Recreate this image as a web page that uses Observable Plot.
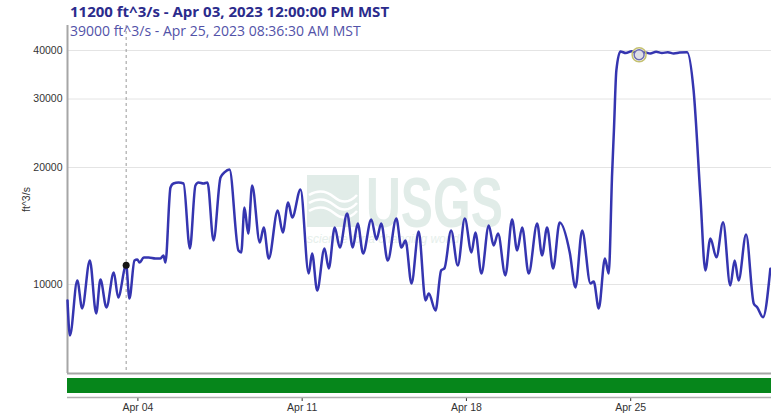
<!DOCTYPE html>
<html>
<head>
<meta charset="utf-8">
<script src="https://cdn.jsdelivr.net/npm/d3@7"></script>
<script src="https://cdn.jsdelivr.net/npm/@observablehq/plot@0.6"></script>
<style>
  body { margin: 0; background: #fff; }
  #wrap { position: relative; width: 771px; height: 417px; overflow: hidden; background: #fff; }
  #wm { position: absolute; left: 300px; top: 165px; z-index: 0; }
  #main { position: absolute; left: 0; top: 0; z-index: 1; }
  #band { position: absolute; left: 0; top: 375px; z-index: 1; }
  #title { position: absolute; left: 70px; top: 1px; z-index: 2; font-family: "Open Sans", sans-serif; font-weight: 700; font-size: 15px; color: #2b2b8c; white-space: nowrap; }
  #sub { position: absolute; left: 70px; top: 21px; z-index: 2; font-family: "Open Sans", sans-serif; font-weight: 400; font-size: 14px; color: #5252a8; white-space: nowrap; }
</style>
</head>
<body>
<div id="wrap">
  <svg id="wm" width="240" height="95" viewBox="0 0 240 95">
    <rect x="7" y="10" width="52" height="52" fill="#e1ece8"></rect>
    <path d="M9 30 Q22 22 34 32 T57 30" stroke="#fff" stroke-width="2.5" fill="none"></path>
    <path d="M9 38 Q22 30 34 40 T57 38" stroke="#fff" stroke-width="2.5" fill="none"></path>
    <path d="M9 46 Q22 38 34 48 T57 46" stroke="#fff" stroke-width="2.5" fill="none"></path>
    <text transform="translate(66,62) scale(0.69,1)" font-family="Liberation Sans, sans-serif" font-weight="700" font-size="70" fill="#e1ece8">USGS</text>
    <text x="7" y="78" font-family="Liberation Sans, sans-serif" font-style="italic" font-size="12" fill="#e6efeb">science for a changing world</text>
  </svg>
  <div id="title">11200 ft^3/s - Apr 03, 2023 12:00:00 PM MST</div>
  <div id="sub">39000 ft^3/s - Apr 25, 2023 08:36:30 AM MST</div>
  <div id="main"></div>
  <div id="band"></div>
</div>
<script>
// ---- data (UTC timestamps, discharge in ft^3/s) ----
const times = [
  "2023-04-01T00:00","2023-04-01T02:30","2023-04-01T10:00","2023-04-01T15:00","2023-04-01T22:50",
  "2023-04-02T05:20","2023-04-02T09:40","2023-04-02T15:50","2023-04-02T23:20","2023-04-03T03:50",
  "2023-04-03T12:00","2023-04-03T15:20","2023-04-03T20:30","2023-04-03T23:20","2023-04-04T01:40",
  "2023-04-04T06:00","2023-04-04T11:00","2023-04-04T18:00","2023-04-04T23:00","2023-04-05T02:10",
  "2023-04-05T04:10","2023-04-05T09:20","2023-04-05T12:20","2023-04-05T17:30","2023-04-05T22:40",
  "2023-04-06T05:10","2023-04-06T10:50","2023-04-06T14:00","2023-04-06T19:00","2023-04-06T23:10",
  "2023-04-07T05:20","2023-04-07T12:30","2023-04-07T16:30","2023-04-07T21:40","2023-04-08T06:50",
  "2023-04-08T09:40","2023-04-08T13:00","2023-04-08T16:50","2023-04-08T20:50","2023-04-09T04:40",
  "2023-04-09T08:40","2023-04-09T13:50","2023-04-09T23:00","2023-04-10T04:10","2023-04-10T09:40",
  "2023-04-10T13:50","2023-04-10T22:20","2023-04-11T06:40","2023-04-11T10:10","2023-04-11T15:20",
  "2023-04-11T22:50","2023-04-12T03:10","2023-04-12T09:20","2023-04-12T14:30","2023-04-12T22:00",
  "2023-04-13T03:40","2023-04-13T08:50","2023-04-13T14:20","2023-04-13T22:40","2023-04-14T04:00",
  "2023-04-14T08:50","2023-04-14T15:30","2023-04-15T00:20","2023-04-15T05:30","2023-04-15T09:40",
  "2023-04-15T15:50","2023-04-15T23:10","2023-04-16T06:10","2023-04-16T09:30","2023-04-16T16:20",
  "2023-04-16T22:10","2023-04-17T01:30","2023-04-17T08:20","2023-04-17T15:10","2023-04-17T22:20",
  "2023-04-18T05:10","2023-04-18T09:10","2023-04-18T15:20","2023-04-18T22:50","2023-04-19T03:50",
  "2023-04-19T08:20","2023-04-19T15:50","2023-04-19T22:40","2023-04-20T03:50","2023-04-20T09:00",
  "2023-04-20T15:40","2023-04-21T00:20","2023-04-21T05:20","2023-04-21T10:30","2023-04-21T16:40",
  "2023-04-21T23:20","2023-04-22T09:40","2023-04-22T15:30","2023-04-22T22:20","2023-04-23T06:50",
  "2023-04-23T10:10","2023-04-23T15:20","2023-04-23T21:40","2023-04-24T01:30","2023-04-24T05:00",
  "2023-04-24T06:50","2023-04-24T09:20","2023-04-24T13:30","2023-04-24T19:00","2023-04-25T01:00",
  "2023-04-25T08:36","2023-04-25T14:00","2023-04-25T20:00","2023-04-26T02:00","2023-04-26T08:00",
  "2023-04-26T14:00","2023-04-26T20:00","2023-04-27T02:00","2023-04-27T09:40","2023-04-27T16:20",
  "2023-04-27T23:20","2023-04-28T04:20","2023-04-28T09:30","2023-04-28T15:40","2023-04-28T22:30",
  "2023-04-29T05:50","2023-04-29T10:20","2023-04-29T14:20","2023-04-29T22:00","2023-04-30T05:50",
  "2023-04-30T09:20","2023-04-30T15:20","2023-04-30T22:50"
];
const flows = [
  9100, 7390, 10240, 8680, 11530,
  8420, 10300, 8730, 10740, 9260,
  11200, 9200, 11530, 11600, 11390,
  11730, 11730, 11660, 11660, 11880,
  11390, 17770, 18190, 18300, 18190,
  12380, 17980, 18300, 18190, 18300,
  12980, 18850, 19420, 19760, 12230,
  12090, 15780, 13520, 17980, 12830,
  14020, 11660, 15510, 13610, 16260,
  14870, 17560, 10670, 12020, 9650,
  12380, 11000, 14020, 12450, 15230,
  12450, 14350, 12020, 14700, 13060,
  14350, 11530, 14780, 12450, 12980,
  10060, 13690, 9100, 9480, 8570,
  10870, 11000, 13770, 11190, 14780,
  12090, 13610, 10670, 14180, 12600,
  13520, 10550, 14700, 12230, 14020,
  10670, 14350, 11880, 14020, 11000,
  14440, 12090, 9830, 13770, 10060,
  10180, 8680, 11660, 10670, 19300,
  24900, 35530, 39770, 39400, 39800,
  39000, 39600, 39300, 39700, 39400,
  39600, 39300, 39500, 39600, 31560,
  16770, 10870, 13130, 11750, 14460,
  9940, 11530, 10240, 13440, 8940,
  8740, 8240, 10980
];
const yTicks = [10000, 20000, 30000, 40000];
const yDomain = [5902, 46380];
const xDomain = ["2023-04-01T00:00", "2023-05-01T00:00"];
const xTicks = ["2023-04-04T00:00", "2023-04-11T00:00", "2023-04-18T00:00", "2023-04-25T00:00"];
const cursorTime = "2023-04-03T12:00:00";
const cursorFlow = 11200;
const peakTime = "2023-04-25T08:36:30";
const peakFlow = 39000;
const approvalStart = ["2023-04-01T00:00"];
const approvalEnd = ["2023-05-01T00:00"];

const parse = s => new Date(s + "Z");
const series = times.map((t, i) => ({t: parse(t), v: flows[i]}));
const xDom = xDomain.map(parse);
const font = '"Liberation Sans", Arial, sans-serif';

const main = Plot.plot({
  width: 771, height: 376,
  marginLeft: 67, marginRight: 0, marginTop: 25, marginBottom: 3,
  style: {background: "transparent", fontFamily: font, fontSize: "10.5px", color: "#333"},
  x: {type: "utc", domain: xDom, axis: null},
  y: {type: "log", domain: yDomain, ticks: yTicks, tickFormat: d => String(d), tickSize: 0, tickPadding: 5,
      label: "ft^3/s", labelAnchor: "center", labelOffset: 45, labelArrow: "none"},
  marks: [
    Plot.ruleY(yTicks, {stroke: "#e4e4e4", strokeWidth: 1}),
    Plot.ruleX([parse(cursorTime)], {stroke: "#9a9a9a", strokeDasharray: "3,3"}),
    Plot.ruleX([xDom[0]], {stroke: "#a6a6a6", strokeWidth: 2}),
    Plot.ruleY([yDomain[0]], {stroke: "#a6a6a6", strokeWidth: 2}),
    Plot.lineY(series, {x: "t", y: "v", stroke: "#3535b0", strokeWidth: 2.5, curve: "monotone-x"}),
    Plot.dot([{t: parse(cursorTime), v: cursorFlow}], {x: "t", y: "v", r: 3.5, fill: "#151515"}),
    Plot.dot([{t: parse(peakTime), v: peakFlow}], {x: "t", y: "v", r: 7, fill: "none", stroke: "#c4c070", strokeWidth: 1.5}),
    Plot.dot([{t: parse(peakTime), v: peakFlow}], {x: "t", y: "v", r: 5, fill: "#dedee6", stroke: "#6a6ab2", strokeWidth: 1.5})
  ]
});
document.getElementById("main").append(main);

const approval = approvalStart.map((s, i) => ({start: parse(s), end: parse(approvalEnd[i])}));
const band = Plot.plot({
  width: 771, height: 42,
  marginLeft: 67, marginRight: 0, marginTop: 3, marginBottom: 20,
  style: {background: "transparent", fontFamily: font, fontSize: "10.5px", color: "#333"},
  x: {type: "utc", domain: xDom, ticks: xTicks.map(parse), tickFormat: d3.utcFormat("%b %d"),
      tickSize: 4, tickPadding: 2, label: null},
  y: {domain: [0, 1], axis: null},
  marks: [
    Plot.rect(approval, {x1: "start", x2: "end", fill: "#06861b", insetBottom: 4}),
    Plot.ruleY([0], {stroke: "#b0b0b0", strokeWidth: 1.5})
  ]
});
document.getElementById("band").append(band);
</script>
</body>
</html>
